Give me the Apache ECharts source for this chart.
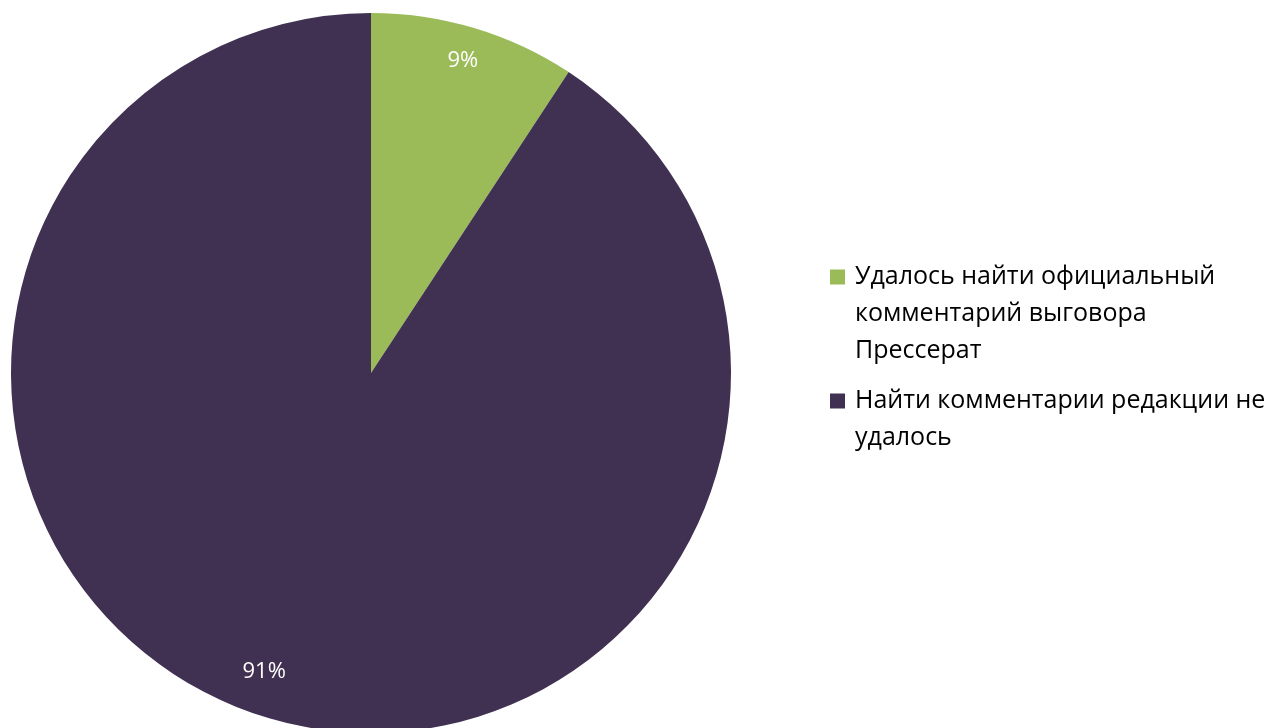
<!DOCTYPE html>
<html>
<head>
<meta charset="utf-8">
<script src="https://cdn.jsdelivr.net/npm/echarts@6/dist/echarts.min.js"></script>
<style>
html,body{margin:0;padding:0;background:#fff;}
#chart{width:1277px;height:728px;}
</style>
</head>
<body>
<div id="chart"></div>
<script>
const categories = ['Удалось найти официальный комментарий выговора Прессерат', 'Найти комментарии редакции не удалось'];
const legendLines = [['Удалось найти официальный', 'комментарий выговора', 'Прессерат'], ['Найти комментарии редакции не', 'удалось']];
const values = [9.25, 90.75];
const colors = ['#9BBB59', '#403152'];

const FONT = '"Open Sans", sans-serif';
const LH = 37;
const labelOffsets = [[-3, 5], [-12, -18]];

const chart = echarts.init(document.getElementById('chart'));
const pieData = categories.map((c, i) => ({ name: c, value: values[i], itemStyle: { color: colors[i] } }));

// Leading blank lines keep the icon aligned with the first text line
const legendText = legendLines.map(lines => Array(lines.length - 1).fill('').concat(lines).join('\n'));
const h1 = (2 * legendLines[0].length - 1) * LH;
const h2 = (2 * legendLines[1].length - 1) * LH;

chart.setOption({
  animation: false,
  backgroundColor: '#ffffff',
  legend: {
    orient: 'vertical',
    left: 830,
    top: 275 - h1 / 2,
    padding: 0,
    itemWidth: 15,
    itemHeight: 15,
    itemGap: 120 - (h1 + h2) / 2,
    icon: 'rect',
    selectedMode: false,
    data: categories,
    formatter: name => legendText[categories.indexOf(name)],
    textStyle: { fontFamily: FONT, fontSize: 25, color: '#000', lineHeight: LH, padding: [4, 0, 0, 5] }
  },
  series: [
    {
      type: 'pie',
      center: [371, 373],
      radius: [0, 360],
      startAngle: 90,
      clockwise: true,
      silent: true,
      label: { show: false },
      labelLine: { show: false },
      data: pieData
    },
    {
      type: 'pie',
      center: [371, 373],
      radius: [296, 360],
      startAngle: 90,
      clockwise: true,
      silent: true,
      itemStyle: { color: 'rgba(0,0,0,0)' },
      label: {
        show: true,
        position: 'inside',
        formatter: p => Math.round(p.percent) + '%',
        color: '#fff',
        fontFamily: FONT,
        fontSize: 22
      },
      labelLine: { show: false },
      data: categories.map((c, i) => ({
        name: c, value: values[i],
        itemStyle: { color: 'rgba(0,0,0,0)' },
        label: { offset: labelOffsets[i] }
      }))
    }
  ]
});
</script>
</body>
</html>
